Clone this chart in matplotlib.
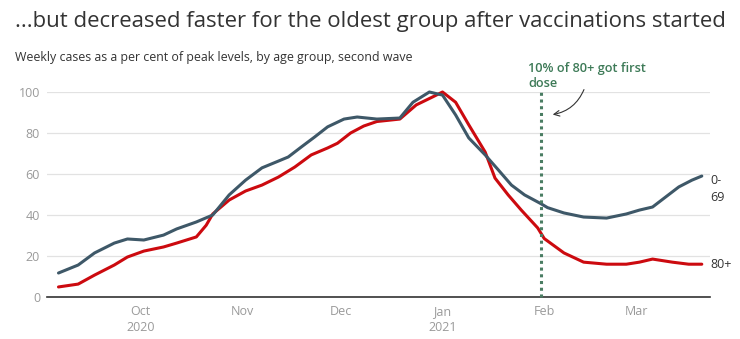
import matplotlib
matplotlib.use("Agg")
import matplotlib.pyplot as plt
import pandas as pd

dates_young = ["2020-09-06", "2020-09-12", "2020-09-17", "2020-09-23", "2020-09-27",
               "2020-10-02", "2020-10-08", "2020-10-12", "2020-10-18", "2020-10-23",
               "2020-10-28", "2020-11-02", "2020-11-07", "2020-11-12", "2020-11-15",
               "2020-11-19", "2020-11-23", "2020-11-27", "2020-12-02", "2020-12-06",
               "2020-12-12", "2020-12-19", "2020-12-23", "2020-12-28", "2021-01-01",
               "2021-01-05", "2021-01-09", "2021-01-14", "2021-01-18", "2021-01-22",
               "2021-01-26", "2021-01-31", "2021-02-02", "2021-02-07", "2021-02-13",
               "2021-02-20", "2021-02-26", "2021-03-02", "2021-03-06", "2021-03-10",
               "2021-03-14", "2021-03-18", "2021-03-21"]
young = [11.7, 15.6, 21.5, 26.3, 28.3,
         27.8, 30.2, 33.2, 36.6, 40.0,
         49.8, 57.0, 63.0, 66.3, 68.3,
         73.2, 78.0, 83.0, 86.8, 87.8,
         86.8, 87.3, 95.0, 100.0, 98.5,
         88.8, 77.6, 69.3, 62.0, 54.6,
         49.8, 45.5, 43.6, 41.0, 39.0,
         38.5, 40.5, 42.4, 43.9, 48.8,
         53.7, 57.0, 59.0]

dates_old = ["2020-09-06", "2020-09-12", "2020-09-17", "2020-09-23", "2020-09-27",
             "2020-10-02", "2020-10-08", "2020-10-12", "2020-10-18", "2020-10-21",
             "2020-10-23", "2020-10-28", "2020-11-02", "2020-11-07", "2020-11-12",
             "2020-11-17", "2020-11-22", "2020-11-27", "2020-11-30", "2020-12-04",
             "2020-12-08", "2020-12-12", "2020-12-19", "2020-12-24", "2020-12-29",
             "2021-01-01", "2021-01-05", "2021-01-09", "2021-01-14", "2021-01-17",
             "2021-01-21", "2021-01-25", "2021-01-30", "2021-02-01", "2021-02-07",
             "2021-02-13", "2021-02-20", "2021-02-26", "2021-03-02", "2021-03-06",
             "2021-03-12", "2021-03-17", "2021-03-21"]
old = [4.9, 6.3, 10.7, 15.6, 19.5,
       22.4, 24.4, 26.3, 29.3, 35.0,
       40.5, 47.3, 51.7, 54.6, 58.5,
       63.4, 69.3, 72.7, 75.0, 80.0,
       83.4, 85.6, 86.8, 93.7, 97.6,
       100.0, 95.0, 84.0, 70.7, 58.0,
       49.8, 42.4, 33.7, 28.5, 21.5,
       17.0, 16.0, 16.0, 17.0, 18.5,
       17.0, 16.0, 16.0]

series_labels = ["0-\n69", "80+"]
vacc_date = "2021-01-31"
vacc_label = "10% of 80+ got first\ndose"
tick_dates = ["2020-10-01", "2020-11-01", "2020-12-01", "2021-01-01", "2021-02-01", "2021-03-01"]
tick_labels = ["Oct\n2020", "Nov", "Dec", "Jan\n2021", "Feb", "Mar"]
y_ticks = [0, 20, 40, 60, 80, 100]

title = "...but decreased faster for the oldest group after vaccinations started"
subtitle = "Weekly cases as a per cent of peak levels, by age group, second wave"

plt.rcParams['font.family'] = ['Open Sans', 'DejaVu Sans']

fig = plt.figure(figsize=(7.4, 3.39), dpi=100)
ax = fig.add_axes([47/740, 1-297/339, (710-47)/740, (297-92)/339])

dy = pd.to_datetime(dates_young)
do = pd.to_datetime(dates_old)
c_young = "#3e5868"
c_old = "#cc0a0f"
ax.plot(dy, young, color=c_young, lw=2.2, clip_on=False, zorder=3,
        solid_capstyle='round', solid_joinstyle='round')
ax.plot(do, old, color=c_old, lw=2.2, clip_on=False, zorder=2,
        solid_capstyle='round', solid_joinstyle='round')

vd = pd.Timestamp(vacc_date)
ax.plot([vd, vd], [0, 100], color="#4a7d63", lw=2.2, ls=(0, (1, 1.2)), zorder=4, clip_on=False)

ax.set_ylim(0, 100)
ax.set_xlim(pd.Timestamp("2020-09-02 12:00"), pd.Timestamp("2021-03-23 12:00"))
ax.set_yticks(y_ticks)
ax.set_yticklabels([str(v) for v in y_ticks])
ax.set_xticks(pd.to_datetime(tick_dates))
ax.set_xticklabels(tick_labels)
ax.grid(axis='y', color="#e2e2e2", lw=0.9)
ax.set_axisbelow(True)
for s in ["top", "right", "left"]:
    ax.spines[s].set_visible(False)
ax.spines["bottom"].set_color("#333333")
ax.spines["bottom"].set_linewidth(1.2)
ax.tick_params(axis='both', length=0, colors="#9a9a9a", labelsize=9)
ax.tick_params(axis='y', pad=5)
ax.tick_params(axis='x', pad=6)
for lab in ax.get_xticklabels():
    lab.set_linespacing(1.3)

# end labels
ax.text(1.0, young[-1] - 6.3, series_labels[0], transform=ax.get_yaxis_transform(),
        ha='left', va='center', fontsize=9, color="#333333", linespacing=1.35)
ax.text(1.0, old[-1], series_labels[1], transform=ax.get_yaxis_transform(),
        ha='left', va='center', fontsize=9, color="#333333")

fig.text(15/740, 1-22/339, title, fontsize=15.9, color="#333333", ha='left', va='center')
fig.text(15/740, 1-57/339, subtitle, fontsize=8.9, color="#333333", ha='left', va='center')
fig.text(528/740, 1-76/339, vacc_label, fontsize=9.2, color="#3d7a57", ha='left', va='center',
         fontweight='semibold', linespacing=1.2)

ax.annotate("", xy=(550/740, 1-115/339), xytext=(585/740, 1-87/339),
            xycoords='figure fraction', textcoords='figure fraction',
            arrowprops=dict(arrowstyle="->", color="#333333", lw=0.8,
                            connectionstyle="arc3,rad=-0.3"))

fig.savefig("out.png", dpi=100, facecolor="white")
